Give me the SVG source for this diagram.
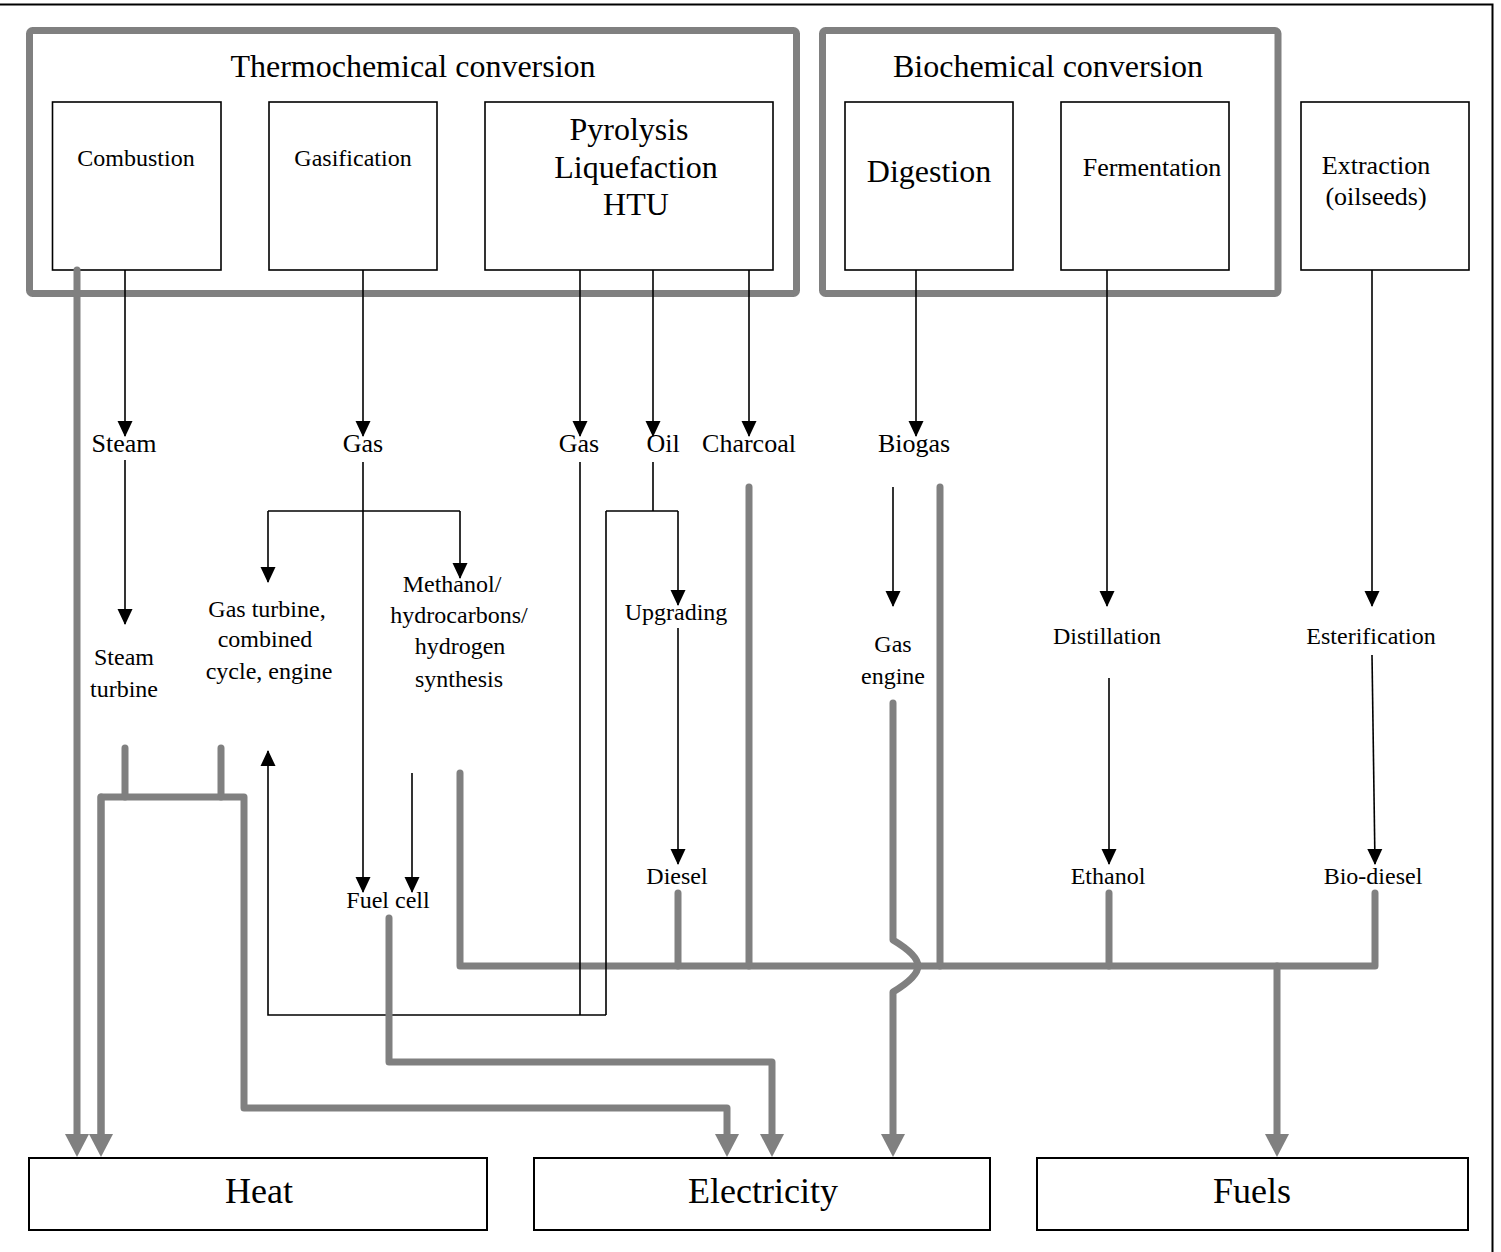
<svg xmlns="http://www.w3.org/2000/svg" width="1501" height="1252" viewBox="0 0 1501 1252">
<style>
text{font-family:"Liberation Serif","Times New Roman",serif;fill:#000;text-anchor:middle}
.grp{fill:none;stroke:#808080;stroke-width:7}
.box{fill:#fff;stroke:#000;stroke-width:1.6}
.out{fill:#fff;stroke:#000;stroke-width:2}
.k{fill:none;stroke:#000;stroke-width:1.6}
.ka{fill:none;stroke:#000;stroke-width:1.6;marker-end:url(#ab)}
.g{fill:none;stroke:#808080;stroke-width:7;stroke-linecap:round;stroke-linejoin:round}
.ga{fill:none;stroke:#808080;stroke-width:7;stroke-linecap:round;stroke-linejoin:round;marker-end:url(#ag)}
.t24{font-size:24px}.t26{font-size:26px}.t32{font-size:32px}.t36{font-size:36px}
</style>
<defs>
<marker id="ab" markerUnits="userSpaceOnUse" markerWidth="17" markerHeight="16" refX="15" refY="8" orient="auto" overflow="visible"><path d="M0,0.5 L16,8 L0,15.5 z" fill="#000"/></marker>
<marker id="ag" markerUnits="userSpaceOnUse" markerWidth="24" markerHeight="25" refX="12" refY="12.5" orient="auto" overflow="visible"><path d="M0,0.5 L23,12.5 L0,24.5 z" fill="#808080"/></marker>
</defs>
<rect width="1501" height="1252" fill="#fff"/>
<path d="M0,4.5 H1492.5 V1252" fill="none" stroke="#000" stroke-width="2"/>

<g id="thermochemical">
<rect class="grp" x="29.5" y="30.5" width="767" height="263" rx="3"/>
<text class="t32" x="413" y="77">Thermochemical conversion</text>
</g>
<g id="biochemical">
<rect class="grp" x="822.5" y="30.5" width="455.5" height="263" rx="3"/>
<text class="t32" x="1048" y="77">Biochemical conversion</text>
</g>

<g id="combustion"><rect class="box" x="52.5" y="102" width="168.5" height="168"/><text class="t24" x="136" y="166">Combustion</text></g>
<g id="gasification"><rect class="box" x="269" y="102" width="168" height="168"/><text class="t24" x="353" y="166">Gasification</text></g>
<g id="pyrolysis"><rect class="box" x="485" y="102" width="288" height="168"/><text class="t32" x="629" y="140">Pyrolysis</text><text class="t32" x="636" y="178">Liquefaction</text><text class="t32" x="636" y="215">HTU</text></g>
<g id="digestion"><rect class="box" x="845" y="102" width="168" height="168"/><text class="t32" x="929" y="182">Digestion</text></g>
<g id="fermentation"><rect class="box" x="1061" y="102" width="168" height="168"/><text class="t26" x="1152" y="176">Fermentation</text></g>
<g id="extraction"><rect class="box" x="1301" y="102" width="168" height="168"/><text class="t26" x="1376" y="174">Extraction</text><text class="t26" x="1376" y="205">(oilseeds)</text></g>

<g id="labels">
<text class="t26" x="124" y="452">Steam</text>
<text class="t26" x="363" y="452">Gas</text>
<text class="t26" x="579" y="452">Gas</text>
<text class="t26" x="663" y="452">Oil</text>
<text class="t26" x="749" y="452">Charcoal</text>
<text class="t26" x="914" y="452">Biogas</text>
<text class="t24" x="124" y="665">Steam</text>
<text class="t24" x="124" y="697">turbine</text>
<text class="t24" x="267" y="617">Gas turbine,</text>
<text class="t24" x="265" y="647">combined</text>
<text class="t24" x="269" y="679">cycle, engine</text>
<text class="t24" x="452" y="592">Methanol/</text>
<text class="t24" x="459" y="623">hydrocarbons/</text>
<text class="t24" x="460" y="654">hydrogen</text>
<text class="t24" x="459" y="687">synthesis</text>
<text class="t24" x="676" y="620">Upgrading</text>
<text class="t24" x="893" y="652">Gas</text>
<text class="t24" x="893" y="684">engine</text>
<text class="t24" x="1107" y="644">Distillation</text>
<text class="t24" x="1371" y="644">Esterification</text>
<text class="t24" x="677" y="884">Diesel</text>
<text class="t24" x="1108" y="884">Ethanol</text>
<text class="t24" x="1373" y="884">Bio-diesel</text>
<text class="t24" x="388" y="908">Fuel cell</text>
</g>

<g id="heat"><rect class="out" x="29" y="1158" width="458" height="72"/><text class="t36" x="259" y="1203">Heat</text></g>
<g id="electricity"><rect class="out" x="534" y="1158" width="456" height="72"/><text class="t36" x="763" y="1203">Electricity</text></g>
<g id="fuels"><rect class="out" x="1037" y="1158" width="431" height="72"/><text class="t36" x="1252" y="1203">Fuels</text></g>

<g id="connectors">
<!-- gray flows -->
<path class="ga" d="M77,270 V1146"/>
<path class="g" d="M125,748 V797 M221,748 V797"/>
<path class="ga" d="M101,1146 V797 H244 V1108 H727 V1146"/>
<path class="ga" d="M101,797 V1146"/>
<path class="g" d="M460,773 V966 H1375 V893"/>
<path class="g" d="M678,893 V966 M749,487 V966 M940,487 V966 M1109,893 V966"/>
<path class="ga" d="M1277,966 V1146"/>
<path class="ga" d="M893,703 V940 Q918,955 918,966 Q918,977 893,992 V1146"/>
<!-- black flows -->
<path class="ka" d="M125,270 V436"/>
<path class="ka" d="M125,460 V624"/>
<path class="ka" d="M363,270 V436"/>
<path class="ka" d="M363,462 V892"/>
<path class="k" d="M268,511 H460"/>
<path class="ka" d="M268,511 V582"/>
<path class="ka" d="M460,511 V578"/>
<path class="ka" d="M412,773 V892"/>
<path class="ka" d="M580,270 V436"/>
<path class="ka" d="M653,270 V436"/>
<path class="ka" d="M749,270 V436"/>
<path class="ka" d="M916,270 V436"/>
<path class="ka" d="M1107,270 V606"/>
<path class="ka" d="M1372,270 V606"/>
<path class="k" d="M653,462 V511 M606,511 H678"/>
<path class="ka" d="M678,511 V605"/>
<path class="ka" d="M678,628 V864"/>
<path class="k" d="M580,462 V1015 M606,511 V1015"/>
<path class="ka" d="M606,1015 H268 V751"/>
<path class="ka" d="M893,487 V606"/>
<path class="ka" d="M1109,678 V864"/>
<path class="ka" d="M1372,655 L1375,864"/>
<!-- fuel cell to electricity (on top) -->
<path class="ga" d="M389,918 V1062 H772 V1146"/>
</g>
</svg>
